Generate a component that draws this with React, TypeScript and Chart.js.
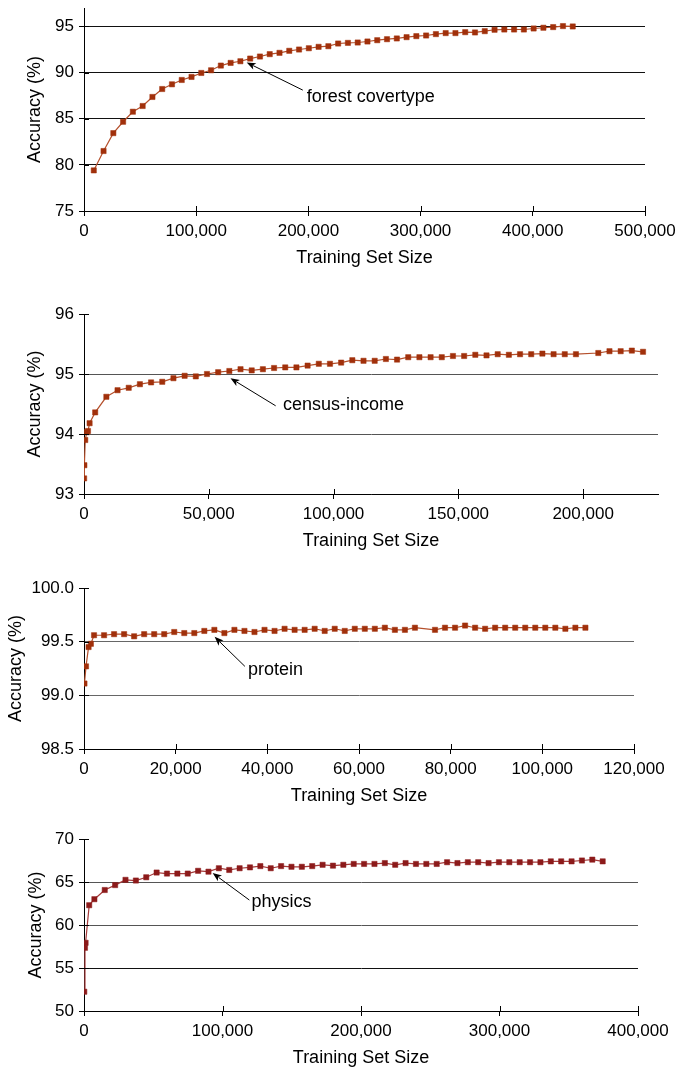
import React, { useEffect, useRef } from "react";
import { Chart, registerables } from "chart.js";

Chart.register(...registerables);
Chart.defaults.font.family = '"Liberation Sans", Arial, Helvetica, sans-serif';
Chart.defaults.color = "#000";

// ---- forest covertype ----
const forestSizes = [
  8712, 17424, 26136, 34848, 43560, 52272, 60984, 69696, 78408, 87120,
  95832, 104544, 113256, 121968, 130680, 139392, 148104, 156816, 165528, 174240,
  182952, 191664, 200376, 209088, 217800, 226512, 235224, 243936, 252648, 261360,
  270072, 278784, 287496, 296208, 304920, 313632, 322344, 331056, 339768, 348480,
  357192, 365904, 374616, 383328, 392040, 400752, 409464, 418176, 426888, 435600,
];
const forestAccuracy = [
  79.4, 81.5, 83.44, 84.67, 85.76, 86.38, 87.36, 88.22, 88.73, 89.2,
  89.53, 89.96, 90.25, 90.76, 91.05, 91.23, 91.52, 91.74, 92.0, 92.14,
  92.36, 92.5, 92.64, 92.79, 92.86, 93.15, 93.22, 93.26, 93.37, 93.51,
  93.62, 93.7, 93.84, 93.95, 94.02, 94.17, 94.28, 94.28, 94.38, 94.35,
  94.49, 94.64, 94.67, 94.67, 94.67, 94.78, 94.86, 94.93, 95.04, 95.0,
];
const forestXTicks = [0, 100000, 200000, 300000, 400000, 500000];
const forestYTicks = [75, 80, 85, 90, 95];

// ---- census-income ----
const censusSizes = [
  50, 150, 500, 1100, 1600, 2240,
  4480, 8960, 13440, 17920, 22400, 26880, 31360, 35840, 40320, 44800,
  49280, 53760, 58240, 62720, 67200, 71680, 76160, 80640, 85120, 89600,
  94080, 98560, 103040, 107520, 112000, 116480, 120960, 125440, 129920, 134400,
  138880, 143360, 147840, 152320, 156800, 161280, 165760, 170240, 174720, 179200,
  183680, 188160, 192640, 197120,
  206080, 210560, 215040, 219520, 224000,
];
const censusAccuracy = [
  93.26, 93.48, 93.9, 94.03, 94.05, 94.18,
  94.36, 94.62, 94.73, 94.77, 94.83, 94.86, 94.87, 94.93, 94.97, 94.96,
  95.0, 95.03, 95.05, 95.08, 95.06, 95.08, 95.1, 95.11, 95.11, 95.14,
  95.17, 95.17, 95.19, 95.23, 95.22, 95.22, 95.25, 95.24, 95.28, 95.28,
  95.28, 95.28, 95.3, 95.3, 95.32, 95.31, 95.33, 95.32, 95.33, 95.33,
  95.34, 95.33, 95.33, 95.33,
  95.35, 95.38, 95.38, 95.39, 95.37,
];
const censusXTicks = [0, 50000, 100000, 150000, 200000];
const censusYTicks = [93, 94, 95, 96];

// ---- protein ----
const proteinSizes = [
  100, 440, 1000, 1500,
  2188, 4376, 6564, 8752, 10940, 13128, 15316, 17504, 19692, 21880,
  24068, 26256, 28444, 30632, 32820, 35008, 37196, 39384, 41572, 43760,
  45948, 48136, 50324, 52512, 54700, 56888, 59076, 61264, 63452, 65640,
  67828, 70016, 72204, 76580, 78768, 80956, 83144, 85332, 87520, 89708,
  91896, 94084, 96272, 98460, 100648, 102836, 105024, 107212, 109400,
];
const proteinAccuracy = [
  99.11, 99.27, 99.45, 99.48,
  99.56, 99.56, 99.57, 99.57, 99.55, 99.57, 99.57, 99.57, 99.59, 99.58,
  99.58, 99.6, 99.61, 99.58, 99.61, 99.6, 99.59, 99.61, 99.6, 99.62,
  99.61, 99.61, 99.62, 99.6, 99.62, 99.6, 99.62, 99.62, 99.62, 99.63,
  99.61, 99.61, 99.63, 99.61, 99.63, 99.63, 99.65, 99.63, 99.62, 99.63,
  99.63, 99.63, 99.63, 99.63, 99.63, 99.63, 99.62, 99.63, 99.63,
];
const proteinXTicks = [0, 20000, 40000, 60000, 80000, 100000, 120000];
const proteinYTicks = [98.5, 99.0, 99.5, 100.0];

// ---- physics ----
const physicsSizes = [
  200, 700, 1150, 3750,
  7490, 14980, 22470, 29960, 37450, 44940, 52430, 59920, 67410, 74900,
  82390, 89880, 97370, 104860, 112350, 119840, 127330, 134820, 142310, 149800,
  157290, 164780, 172270, 179760, 187250, 194740, 202230, 209720, 217210, 224700,
  232190, 239680, 247170, 254660, 262150, 269640, 277130, 284620, 292110, 299600,
  307090, 314580, 322070, 329560, 337050, 344540, 352030, 359520, 367010, 374500,
];
const physicsAccuracy = [
  52.24, 57.35, 57.93, 62.3,
  63.0, 64.07, 64.64, 65.25, 65.17, 65.55, 66.1, 65.98, 65.98, 65.98,
  66.3, 66.2, 66.6, 66.4, 66.6, 66.7, 66.85, 66.6, 66.85, 66.77,
  66.77, 66.85, 67.0, 66.9, 67.0, 67.1, 67.1, 67.1, 67.2, 67.0,
  67.2, 67.1, 67.1, 67.1, 67.3, 67.2, 67.3, 67.3, 67.2, 67.3,
  67.3, 67.3, 67.3, 67.3, 67.4, 67.4, 67.4, 67.5, 67.6, 67.4,
];
const physicsXTicks = [0, 100000, 200000, 300000, 400000];
const physicsYTicks = [50, 55, 60, 65, 70];

type PanelConfig = {
  name: string;
  sizes: number[];
  accuracy: number[];
  xTicks: number[];
  yTicks: number[];
  xMax: number;
  yMax: number;
  yDecimals: number;
  marker: string;
  line: string;
  grid: (v: number) => string;
  top: number;
  height: number;
  padRight: number;
  yTitleOffset: number;
  tip: [number, number];
  tail: [number, number];
  labelAt: [number, number];
};

const AREA_TOP = 20;
const X_AXIS_HEIGHT = 60;
const Y_AXIS_WIDTH = 84;

const panels: PanelConfig[] = [
  {
    name: "forest covertype",
    sizes: forestSizes,
    accuracy: forestAccuracy,
    xTicks: forestXTicks,
    yTicks: forestYTicks,
    xMax: 500000,
    yMax: 97,
    yDecimals: 0,
    marker: "#A1300B",
    line: "#B5502C",
    grid: () => "#111",
    top: -12,
    height: 283,
    padRight: 38,
    yTitleOffset: 24,
    tip: [145000, 91.1],
    tail: [195000, 88.1],
    labelAt: [198500, 87.4],
  },
  {
    name: "census-income",
    sizes: censusSizes,
    accuracy: censusAccuracy,
    xTicks: censusXTicks,
    yTicks: censusYTicks,
    xMax: 230000,
    yMax: 96,
    yDecimals: 0,
    marker: "#A1300B",
    line: "#B5502C",
    grid: () => "#555",
    top: 294,
    height: 260,
    padRight: 25,
    yTitleOffset: 24,
    tip: [58700, 94.93],
    tail: [76800, 94.47],
    labelAt: [79700, 94.48],
  },
  {
    name: "protein",
    sizes: proteinSizes,
    accuracy: proteinAccuracy,
    xTicks: proteinXTicks,
    yTicks: proteinYTicks,
    xMax: 120000,
    yMax: 100,
    yDecimals: 1,
    marker: "#A1300B",
    line: "#B5502C",
    grid: () => "#666",
    top: 568,
    height: 241,
    padRight: 49,
    yTitleOffset: 5,
    tip: [28500, 99.545],
    tail: [35100, 99.27],
    labelAt: [35800, 99.24],
  },
  {
    name: "physics",
    sizes: physicsSizes,
    accuracy: physicsAccuracy,
    xTicks: physicsXTicks,
    yTicks: physicsYTicks,
    xMax: 400000,
    yMax: 70,
    yDecimals: 0,
    marker: "#8C1A1A",
    line: "#A53A3A",
    grid: (v: number) => (v === 55 ? "#111" : "#555"),
    top: 819,
    height: 252,
    padRight: 45,
    yTitleOffset: 25,
    tip: [92900, 66.04],
    tail: [119400, 62.9],
    labelAt: [120900, 62.7],
  },
];

// Short tick marks pointing into the plot, so ticks cross the axis lines.
const innerTicks = {
  id: "innerTicks",
  afterDraw(chart: any) {
    const { ctx, chartArea, scales } = chart;
    const xs = scales.x;
    const ys = scales.y;
    ctx.save();
    ctx.strokeStyle = "#000";
    ctx.lineWidth = 1;
    ctx.beginPath();
    xs.ticks.forEach((t: any) => {
      const px = Math.round(xs.getPixelForValue(t.value)) + 0.5;
      ctx.moveTo(px, chartArea.bottom);
      ctx.lineTo(px, chartArea.bottom - 5);
    });
    ys.ticks.forEach((t: any) => {
      const py = Math.round(ys.getPixelForValue(t.value)) + 0.5;
      ctx.moveTo(chartArea.left, py);
      ctx.lineTo(chartArea.left + 5, py);
    });
    ctx.stroke();
    ctx.restore();
  },
};

// Dataset name with an arrow pointing at the curve.
const arrowLabel = {
  id: "arrowLabel",
  afterDraw(chart: any, _args: any, opts: any) {
    if (!opts || !opts.text) return;
    const { ctx, scales } = chart;
    const xs = scales.x;
    const ys = scales.y;
    const tx = xs.getPixelForValue(opts.tip[0]);
    const ty = ys.getPixelForValue(opts.tip[1]);
    const sx = xs.getPixelForValue(opts.tail[0]);
    const sy = ys.getPixelForValue(opts.tail[1]);
    const ang = Math.atan2(ty - sy, tx - sx);
    const headLen = 9;
    const headHalf = 3.5;
    ctx.save();
    ctx.strokeStyle = "#000";
    ctx.fillStyle = "#000";
    ctx.lineWidth = 1;
    ctx.beginPath();
    ctx.moveTo(sx, sy);
    ctx.lineTo(tx - Math.cos(ang) * headLen * 0.8, ty - Math.sin(ang) * headLen * 0.8);
    ctx.stroke();
    const bx = tx - Math.cos(ang) * headLen;
    const by = ty - Math.sin(ang) * headLen;
    ctx.beginPath();
    ctx.moveTo(tx, ty);
    ctx.lineTo(bx - Math.sin(ang) * headHalf, by + Math.cos(ang) * headHalf);
    ctx.lineTo(tx - Math.cos(ang) * headLen * 0.75, ty - Math.sin(ang) * headLen * 0.75);
    ctx.lineTo(bx + Math.sin(ang) * headHalf, by - Math.cos(ang) * headHalf);
    ctx.closePath();
    ctx.fill();
    ctx.font = '18px "Liberation Sans", Arial, sans-serif';
    ctx.textAlign = "left";
    ctx.textBaseline = "middle";
    ctx.fillText(opts.text, xs.getPixelForValue(opts.labelAt[0]), ys.getPixelForValue(opts.labelAt[1]));
    ctx.restore();
  },
};

function Panel({ cfg }: { cfg: PanelConfig }) {
  const ref = useRef<HTMLCanvasElement | null>(null);

  useEffect(() => {
    if (!ref.current) return;
    const yMin = cfg.yTicks[0];
    const points = cfg.sizes.map((s, i) => ({ x: s, y: cfg.accuracy[i] }));
    const chart = new Chart(ref.current, {
      type: "line",
      data: {
        datasets: [
          {
            data: points,
            borderColor: cfg.line,
            borderWidth: 1.2,
            tension: 0,
            fill: false,
            pointStyle: "rect",
            pointRadius: 3.7,
            pointBackgroundColor: cfg.marker,
            pointBorderColor: cfg.marker,
            pointBorderWidth: 0.5,
          },
        ],
      },
      options: {
        animation: false,
        responsive: false,
        devicePixelRatio: 1,
        layout: { padding: { top: AREA_TOP, left: 0, right: cfg.padRight, bottom: 0 } },
        plugins: {
          legend: { display: false },
          tooltip: { enabled: false },
          arrowLabel: { text: cfg.name, tip: cfg.tip, tail: cfg.tail, labelAt: cfg.labelAt },
        } as any,
        scales: {
          x: {
            type: "linear",
            min: 0,
            max: cfg.xMax,
            afterBuildTicks: (s: any) => {
              s.ticks = cfg.xTicks.map((v) => ({ value: v }));
            },
            afterFit: (s: any) => {
              s.height = X_AXIS_HEIGHT;
            },
            grid: {
              drawOnChartArea: false,
              drawTicks: true,
              tickLength: 5,
              tickColor: "#000",
              color: "#000",
            },
            border: { display: true, color: "#000", width: 1 },
            ticks: {
              padding: 5,
              color: "#000",
              font: { size: 17 },
              maxRotation: 0,
              autoSkip: false,
              callback: (v: any) => Number(v).toLocaleString("en-US"),
            },
            title: {
              display: true,
              text: "Training Set Size",
              color: "#000",
              font: { size: 18 },
              padding: { top: 0, bottom: 2 },
            },
          },
          y: {
            type: "linear",
            min: yMin,
            max: cfg.yMax,
            afterBuildTicks: (s: any) => {
              s.ticks = cfg.yTicks.map((v) => ({ value: v }));
            },
            afterFit: (s: any) => {
              s.width = Y_AXIS_WIDTH;
            },
            grid: {
              drawOnChartArea: true,
              drawTicks: true,
              tickLength: 5,
              tickColor: "#000",
              lineWidth: 1,
              color: (c: any) => {
                const v = c.tick ? c.tick.value : yMin;
                if (v >= cfg.yMax - 1e-9) return "rgba(0,0,0,0)";
                return cfg.grid(v);
              },
            },
            border: { display: true, color: "#000", width: 1 },
            ticks: {
              padding: 5,
              color: "#000",
              font: { size: 17 },
              autoSkip: false,
              callback: (v: any) => Number(v).toFixed(cfg.yDecimals),
            },
            title: {
              display: true,
              text: "Accuracy (%)",
              color: "#000",
              font: { size: 18 },
              padding: { top: cfg.yTitleOffset, bottom: 0 },
            },
          },
        },
      },
      plugins: [innerTicks, arrowLabel],
    });
    return () => chart.destroy();
  }, [cfg]);

  return (
    <canvas
      ref={ref}
      width={683}
      height={cfg.height}
      style={{
        position: "absolute",
        left: 0,
        top: cfg.top,
        width: 683,
        height: cfg.height,
        display: "block",
      }}
    />
  );
}

export default function App() {
  return (
    <div>
      {panels.map((p) => (
        <Panel key={p.name} cfg={p} />
      ))}
    </div>
  );
}
